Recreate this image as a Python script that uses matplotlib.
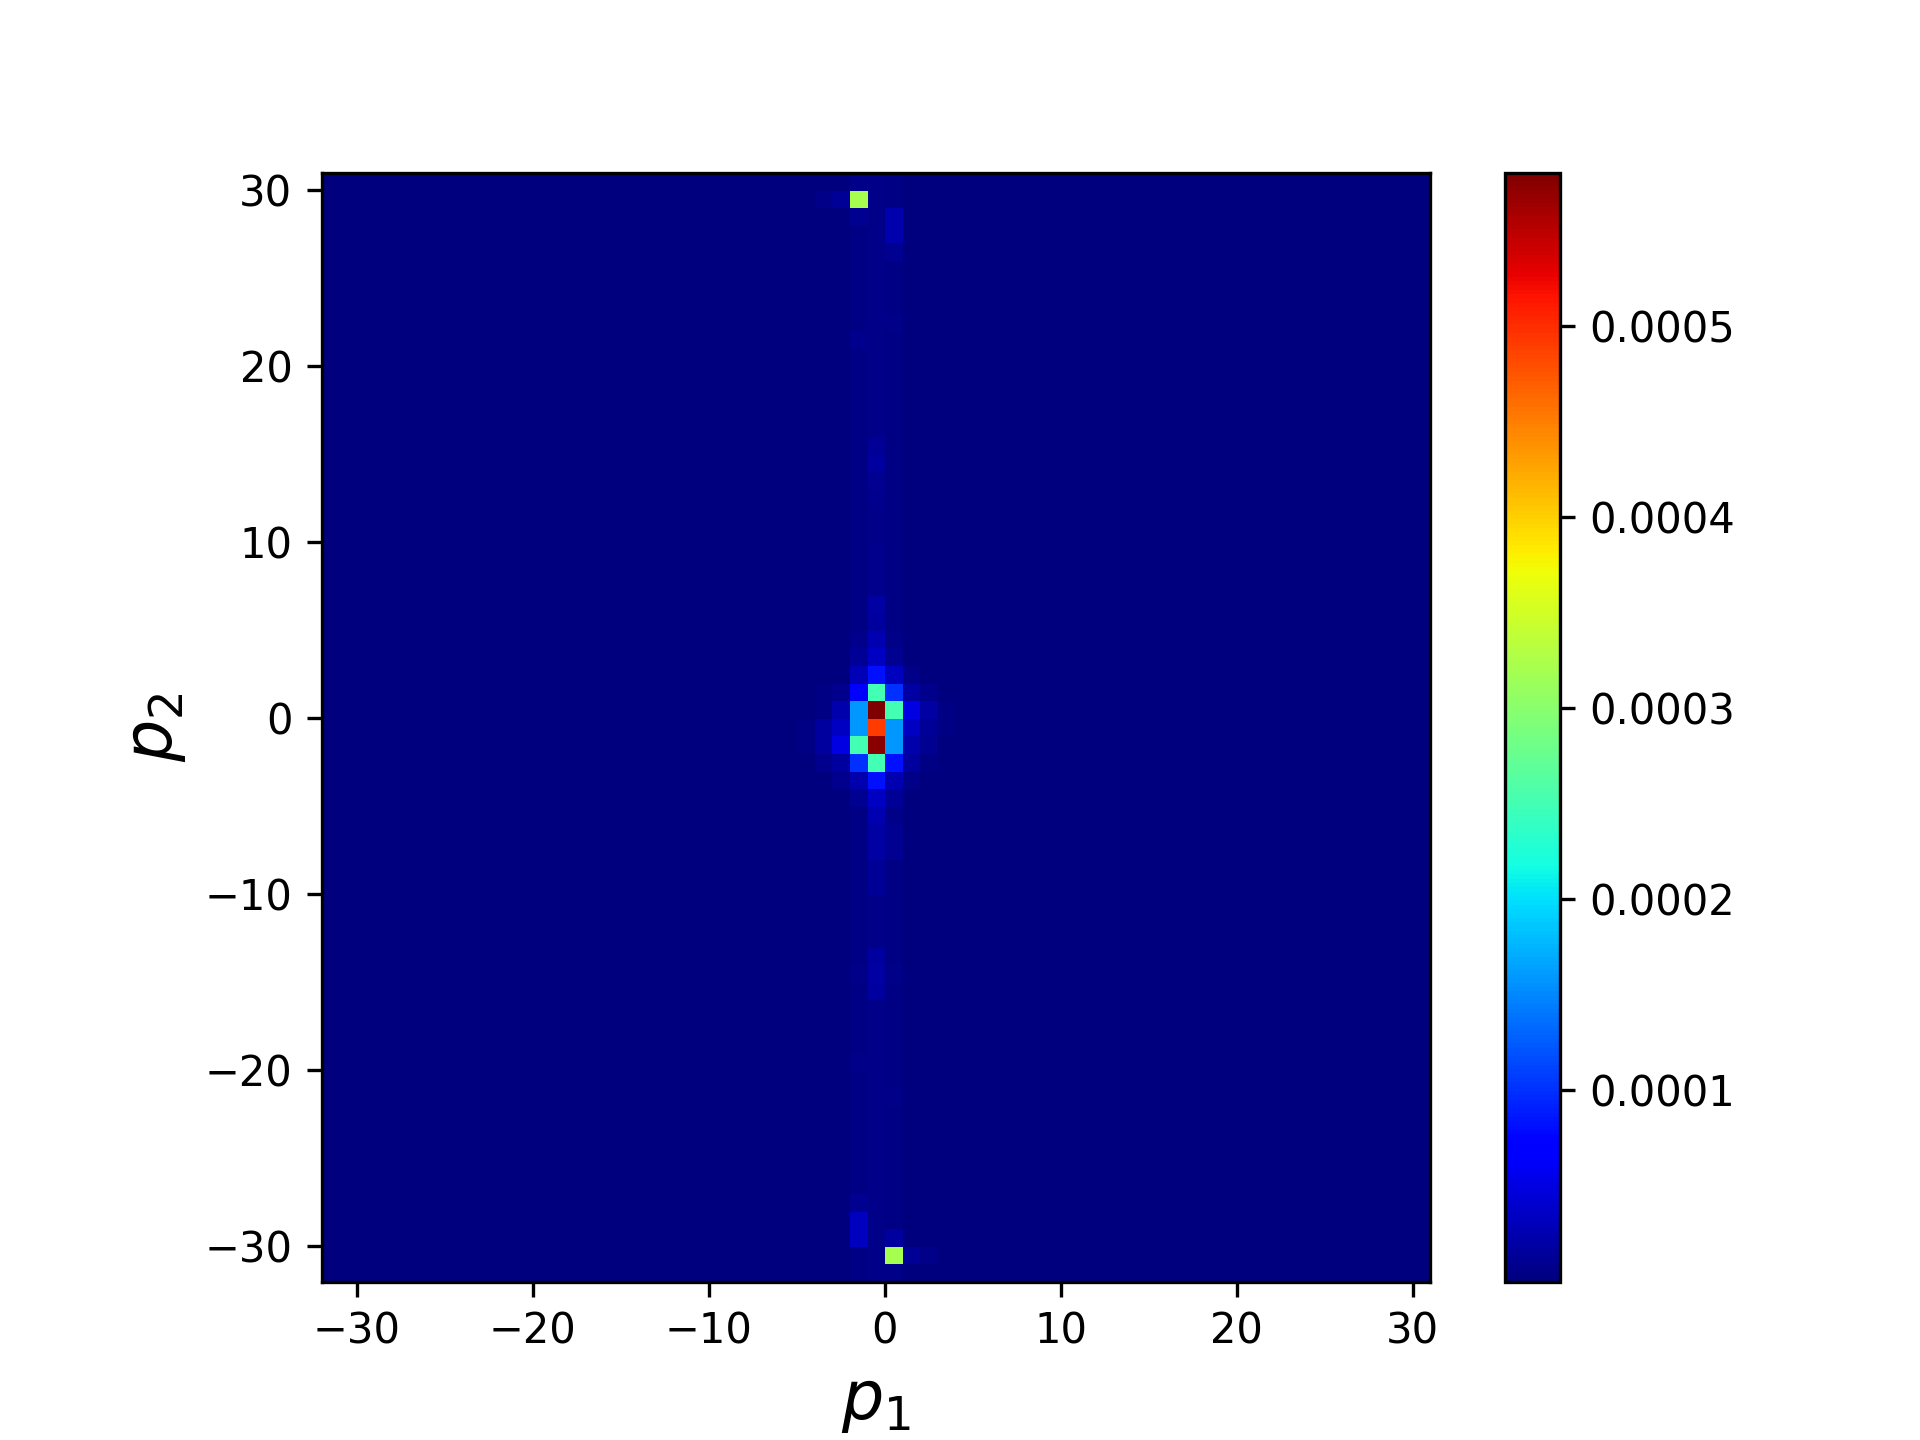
import matplotlib
matplotlib.use('Agg')
import matplotlib.pyplot as plt
import numpy as np

# momentum grid: cell (p1, p2) covers [p1, p1+1] x [p2, p2+1]
P_MIN, P_MAX = -32, 31
background = 0.01e-4

# faint vertical streaks along a few columns (value in units of 1e-4)
streak_p1 = [-2, -1, 0]
streak_val = [0.03, 0.05, 0.03]

# individual cells (value in units of 1e-4)
cell_p1 = [
    -2,
    -4, -3, -2, -1,
    -2, 0, 0, 0,
    -2, 0,
    -1, -1, -1, -1, -1, -1, -1,
    -1, -1, -1, -1, -1, -1,
    -2, -1, 0,
    -2, -1, 0,
    -2, -1, 0, 1,
    -4, -3, -2, -1, 0, 1, 2,
    -4, -3, -2, -1, 0, 1, 2, 3,
    -5, -4, -3, -2, -1, 0, 1, 2, 3,
    -5, -4, -3, -2, -1, 0, 1, 2,
    -4, -3, -2, -1, 0, 1, 2,
    -3, -2, -1, 0, 1,
    -2, -1, 0,
    -1, 0,
    -1, 0, -1, 0,
    -1, -1,
    -1, -1, -1,
    -1, -1, -1, -2, 0, -2, 0,
    -2, -2, -2, 0,
    0, 1, 2, 0,
]
cell_p2 = [
    30,
    29, 29, 29, 29,
    28, 28, 27, 26,
    21, 22,
    15, 14, 13, 9, 8, 7, 12,
    6, 5, 4, 3, 2, 1,
    4, 4, 4,
    3, 3, 3,
    2, 2, 2, 2,
    1, 1, 1, 1, 1, 1, 1,
    0, 0, 0, 0, 0, 0, 0, 0,
    -1, -1, -1, -1, -1, -1, -1, -1, -1,
    -2, -2, -2, -2, -2, -2, -2, -2,
    -3, -3, -3, -3, -3, -3, -3,
    -4, -4, -4, -4, -4,
    -5, -5, -5,
    -6, -6,
    -7, -7, -8, -8,
    -9, -10,
    -11, -12, -13,
    -14, -15, -16, -15, -15, -20, -22,
    -28, -29, -30, -30,
    -31, -31, -31, -32,
]
cell_val = [
    0.05,
    0.05, 0.12, 3.2, 0.06,
    0.11, 0.24, 0.24, 0.10,
    0.07, 0.05,
    0.12, 0.16, 0.10, 0.08, 0.08, 0.08, 0.07,
    0.20, 0.18, 0.24, 0.36, 0.82, 1.0,
    0.08, 0.26, 0.05,
    0.12, 0.36, 0.10,
    0.28, 0.82, 0.32, 0.05,
    0.04, 0.08, 0.70, 2.5, 1.0, 0.20, 0.08,
    0.04, 0.24, 1.6, 5.8, 2.5, 0.52, 0.20, 0.04,
    0.04, 0.16, 0.36, 1.6, 4.9, 1.6, 0.36, 0.12, 0.04,
    0.04, 0.18, 0.52, 2.5, 5.75, 1.6, 0.24, 0.10,
    0.07, 0.16, 1.0, 2.5, 0.82, 0.18, 0.04,
    0.08, 0.24, 0.82, 0.26, 0.05,
    0.10, 0.36, 0.12,
    0.26, 0.06,
    0.20, 0.10, 0.20, 0.10,
    0.12, 0.12,
    0.06, 0.06, 0.06,
    0.16, 0.20, 0.16, 0.05, 0.06, 0.05, 0.05,
    0.11, 0.32, 0.32, 0.16,
    3.2, 0.12, 0.05, 0.05,
]

n = P_MAX - P_MIN
Z = np.full((n, n), background * 1e-4)
for p1, v in zip(streak_p1, streak_val):
    Z[:, p1 - P_MIN] = v * 1e-4
for p1, p2, v in zip(cell_p1, cell_p2, cell_val):
    Z[p2 - P_MIN, p1 - P_MIN] = v * 1e-4

fig, ax = plt.subplots(figsize=(6.4, 4.8), dpi=300)
im = ax.imshow(Z, origin='lower', cmap='jet', interpolation='nearest',
               extent=[P_MIN, P_MAX, P_MIN, P_MAX])
ax.set_xlabel('$p_1$', fontsize=16)
ax.set_ylabel('$p_2$', fontsize=16)
fig.colorbar(im, ax=ax)
fig.savefig('out.png', dpi=300)
